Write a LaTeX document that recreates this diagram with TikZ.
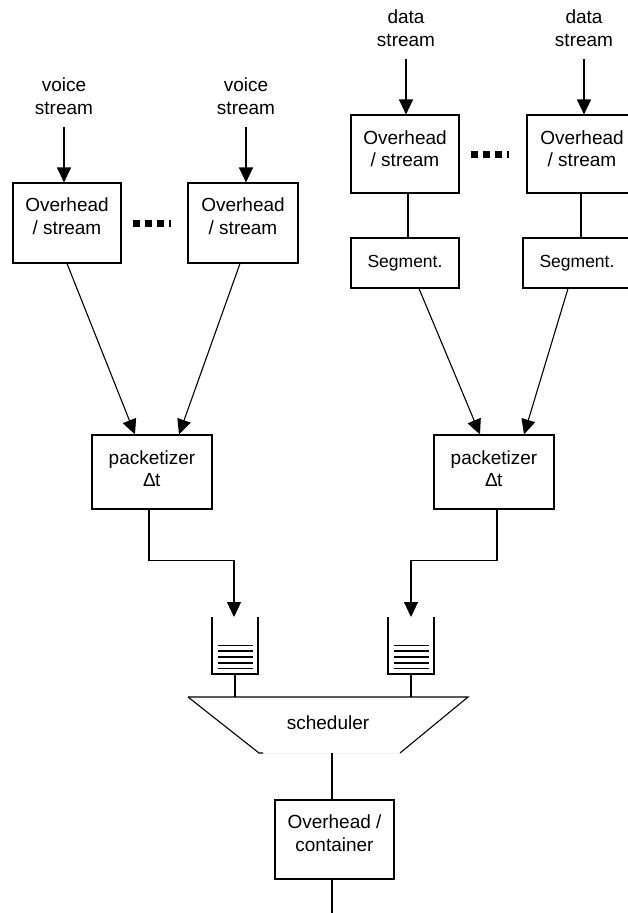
\documentclass[tikz,border=0pt]{standalone}
\usepackage{fontspec}
\setmainfont{Liberation Sans}
\usetikzlibrary{arrows.meta,calc}
\begin{document}
\begin{tikzpicture}[x=1pt,y=-1pt,line width=1.1pt,
  box/.style={draw,line width=1.1pt,inner sep=0pt},
  txt/.style={font=\fontsize{19}{22.5}\selectfont,align=center,inner sep=0pt},
  segtxt/.style={font=\fontsize{17.5}{21}\selectfont,align=center,inner sep=0pt},
  arr/.style={-{Triangle[length=15pt,width=14pt]}},
  dots/.style={line width=7pt,dash pattern=on 7pt off 5pt},
  qline/.style={line width=1.8pt},
  ghost/.style={inner sep=0pt,outer sep=0pt}
]
\useasboundingbox (0,0) rectangle (628,913);

% input labels
\node[txt,anchor=south] (vl1) at (64,115) {voice\\stream};
\node[txt,anchor=south] (vl2) at (246,115) {voice\\stream};
\node[txt,anchor=south] (dl1) at (406,47) {data\\stream};
\node[txt,anchor=south] (dl2) at (584,47) {data\\stream};

% overhead / stream boxes
\node[box,minimum width=108pt,minimum height=80pt] (v1) at (67,223) {};
\node[box,minimum width=110pt,minimum height=80pt] (v2) at (243,223) {};
\node[box,minimum width=108pt,minimum height=78pt] (d1) at (405,154) {};
\node[box,minimum width=110pt,minimum height=78pt] (d2) at (582,154) {};
\node[txt] (v1t) at ([yshift=-34pt]v1.north) {Overhead\\/ stream};
\node[txt] (v2t) at ([yshift=-34pt]v2.north) {Overhead\\/ stream};
\node[txt] (d1t) at ([yshift=-34.5pt]d1.north) {Overhead\\/ stream};
\node[txt] (d2t) at ([yshift=-34.5pt]d2.north) {Overhead\\/ stream};

% segmentation boxes
\node[box,segtxt,minimum width=108pt,minimum height=50pt] (s1) at (405,263) {Segment.};
\node[box,segtxt,minimum width=108pt,minimum height=50pt] (s2) at (577,263) {Segment.};

% packetizers
\node[box,minimum width=120pt,minimum height=74pt] (p1) at (152,472) {};
\node[box,minimum width=120pt,minimum height=74pt] (p2) at (494,472) {};
\node[txt] (p1t) at ([yshift=-34pt]p1.north) {packetizer\\∆t};
\node[txt] (p2t) at ([yshift=-34pt]p2.north) {packetizer\\∆t};

% queues
\node[ghost,minimum width=46pt,minimum height=57pt] (q1) at (235,645.5) {};
\node[ghost,minimum width=46pt,minimum height=57pt] (q2) at (411,645.5) {};
\foreach \q in {q1,q2}{
  \draw (\q.north west) -- (\q.south west) -- (\q.south east) -- (\q.north east);
  \foreach \k in {0,...,4}{
    \draw[qline] ($(\q.north)+(-17.5,28.5+5.75*\k)$) -- ++(35,0);
  }
}

% scheduler
\node[ghost,minimum width=280pt,minimum height=56pt] (sch) at (328,725) {};
\node[txt] (scht) at ([yshift=2pt]sch.center) {scheduler};
\coordinate (sbl) at ([xshift=71pt]sch.south west);
\coordinate (sbr) at ([xshift=-68pt]sch.south east);
\draw[black!6,line width=1pt] (sbl) -- (sbr);
\draw (sch.north west) -- (sch.north east) -- (sbr);
\draw (sch.north west) -- (sbl) -- ++(4,0);

% container
\node[box,minimum width=119pt,minimum height=79pt] (cont) at (334.5,839.5) {};
\node[txt] (contt) at ([yshift=-33.5pt]cont.north) {Overhead /\\container};

% ellipsis dots
\draw[dots] ([xshift=11pt]v1.east) -- ([xshift=-16pt]v2.west);
\draw[dots] ([xshift=11pt]d1.east) -- ([xshift=-17pt]d2.west);

% input arrows
\foreach \l/\b in {vl1/v1,vl2/v2,dl1/d1,dl2/d2}{
  \draw[arr,shorten <=12pt] (\l.south) -- (\l.south |- \b.north);
}

% overhead to segment
\draw ([xshift=3pt]d1.south) -- ([xshift=3pt]s1.north);
\draw ([xshift=-1pt]d2.south) -- ([xshift=4pt]s2.north);

% to packetizers
\draw[arr] (v1.south) -- ([xshift=-17pt]p1.north);
\draw[arr] ([xshift=-3pt]v2.south) -- ([xshift=27pt]p1.north);
\draw[arr] ([xshift=14pt]s1.south) -- ([xshift=-14pt]p2.north);
\draw[arr] ([xshift=-9pt]s2.south) -- ([xshift=30pt]p2.north);

% packetizers to queues
\draw[arr] ([xshift=-3pt]p1.south) -- ++(0,51) -| ([xshift=-1pt]q1.north);
\draw[arr] ([xshift=3pt]p2.south) -- ++(0,51) -| (q2.north);

% queues to scheduler
\draw (q1.south) -- (q1.south |- sch.north);
\draw (q2.south) -- (q2.south |- sch.north);

% scheduler to container and out
\draw ([xshift=-2.5pt]cont.north) -- ([xshift=-2.5pt]cont.north |- sch.south);
\coordinate (out) at ([xshift=-2.5pt,yshift=-40pt]cont.south);
\draw ([xshift=-2.5pt]cont.south) -- (out);
\end{tikzpicture}
\end{document}
